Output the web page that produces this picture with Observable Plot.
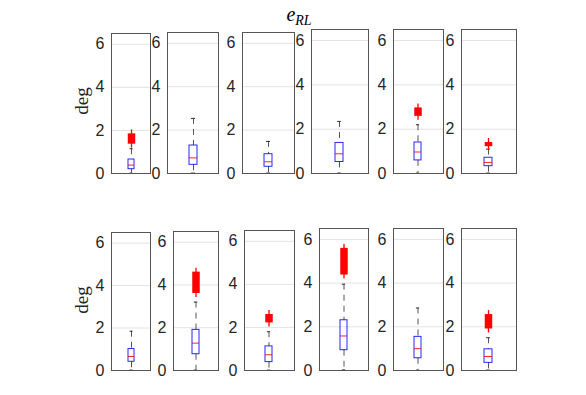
<!DOCTYPE html>
<html>
<head>
<meta charset="utf-8">
<script src="https://cdn.jsdelivr.net/npm/d3@7"></script>
<script src="https://cdn.jsdelivr.net/npm/@observablehq/plot@0.6"></script>
<style>
  html, body { margin: 0; padding: 0; background: #fff; }
  #fig { position: relative; width: 586px; height: 395px; overflow: hidden; background: #fff; }
  .panel { position: absolute; }
  .ylab { position: absolute; font-family: "Liberation Serif", "Times New Roman", serif; font-size: 19px; color: #262626; transform: translate(-50%, -50%) rotate(-90deg); white-space: nowrap; }
  .title { position: absolute; font-family: "Liberation Serif", "Times New Roman", serif; font-size: 20px; color: #000; transform: translateX(-50%); white-space: nowrap; }
  .title sub { font-size: 14px; vertical-align: -4px; }
</style>
</head>
<body>
<div id="fig"></div>
<script>
// ---- data (12 panels: row 1 then row 2), values in deg ----
const panelNames = ["r1c1","r1c2","r1c3","r1c4","r1c5","r1c6","r2c1","r2c2","r2c3","r2c4","r2c5","r2c6"];
const q1Values   = [0.20, 0.40, 0.31, 0.52, 0.59, 0.33,  0.41, 0.76, 0.39, 0.93, 0.56, 0.35];
const medValues  = [0.39, 0.72, 0.54, 0.89, 0.97, 0.50,  0.66, 1.28, 0.73, 1.58, 1.00, 0.64];
const q3Values   = [0.65, 1.29, 0.89, 1.38, 1.40, 0.71,  1.01, 1.90, 1.12, 2.30, 1.54, 0.97];
const whiskLo    = [0.02, 0.02, 0.02, 0.02, 0.02, 0.02,  0.02, 0.02, 0.02, 0.03, 0.02, 0.02];
const whiskHi    = [1.15, 2.54, 1.48, 2.35, 2.20, 1.10,  1.85, 3.20, 1.80, 3.95, 2.86, 1.50];
const outlierLo  = [1.36, null, null, null, 2.58, 1.21,  null, 3.60, 2.21, 4.37, null, 1.90];
const outlierHi  = [1.84, null, null, null, 2.96, 1.40,  null, 4.60, 2.60, 5.59, null, 2.56];
const yTicks = [0, 2, 4, 6];
const yMax = 6.5;
const yLabel = "deg";

// ---- layout (frame rectangles in page pixels) ----
const frameLeft   = [111, 167, 242, 311, 393, 461,  111, 173, 244, 319, 393, 461];
const frameRight  = [150, 218, 294, 368, 443, 516,  150, 218, 294, 368, 443, 516];
const frameTop    = [33, 32, 32, 29, 29, 29,  232, 231, 230, 228, 228, 228];
const frameBottom = [173, 173, 173, 173, 173, 173,  370, 370, 370, 370, 370, 370];

const ML = 34, MR = 2, MT = 4, MB = 14;
const fig = document.getElementById("fig");

panelNames.forEach((name, i) => {
  const W = frameRight[i] - frameLeft[i];
  const H = frameBottom[i] - frameTop[i];
  const rec = [{k: name, q1: q1Values[i], med: medValues[i], q3: q3Values[i],
                lo: whiskLo[i], hi: whiskHi[i], oLo: outlierLo[i], oHi: outlierHi[i]}];
  const out = rec.filter(d => d.oLo != null);
  const bw = 0.15 * W;
  const capInset = bw / 4;
  const chart = Plot.plot({
    width: W + ML + MR,
    height: H + MT + MB,
    marginLeft: ML, marginRight: MR, marginTop: MT, marginBottom: MB,
    style: {fontFamily: "'Liberation Sans', Arial, sans-serif", fontSize: "16px", color: "#262626", background: "transparent", overflow: "visible"},
    x: {type: "band", domain: [name], padding: 0.739, axis: null},
    y: {domain: [0, yMax], ticks: yTicks, tickSize: 0, tickPadding: 7, label: null, tickFormat: d3.format("d")},
    marks: [
      Plot.gridY(yTicks.filter(t => t > 0), {stroke: "#e3e3e3", strokeOpacity: 1}),
      Plot.ruleX(rec, {x: "k", y1: "hi", y2: "q3", stroke: "#555", strokeDasharray: "6,5"}),
      Plot.ruleX(rec, {x: "k", y1: "q1", y2: "lo", stroke: "#555", strokeDasharray: "6,5"}),
      Plot.tickY(rec, {x: "k", y: "hi", stroke: "#333", insetLeft: capInset, insetRight: capInset}),
      Plot.tickY(rec, {x: "k", y: "lo", stroke: "#333", insetLeft: capInset, insetRight: capInset}),
      Plot.barY(rec, {x: "k", y1: "q1", y2: "q3", fill: "none", stroke: "#0000ff", strokeOpacity: 0.85}),
      Plot.tickY(rec, {x: "k", y: "med", stroke: "#ff0000", strokeOpacity: 0.85}),
      Plot.ruleX(out, {x: "k", y1: "oHi", y2: "oLo", stroke: "#ff0000", strokeWidth: 7.5}),
      Plot.ruleX(out, {x: "k", y1: "oHi", y2: "oLo", stroke: "#ff0000", strokeWidth: 1.3, insetTop: -4, insetBottom: -4}),
      Plot.frame({stroke: "#555"})
    ]
  });
  const wrap = document.createElement("div");
  wrap.className = "panel";
  wrap.style.left = (frameLeft[i] - ML) + "px";
  wrap.style.top = (frameTop[i] - MT) + "px";
  wrap.appendChild(chart);
  fig.appendChild(wrap);
});

// y labels
[[82, 101], [82, 300]].forEach(([x, y]) => {
  const d = document.createElement("div");
  d.className = "ylab";
  d.style.left = x + "px";
  d.style.top = y + "px";
  d.textContent = yLabel;
  fig.appendChild(d);
});

// title
const t = document.createElement("div");
t.className = "title";
t.style.left = "299px";
t.style.top = "3px";
t.innerHTML = "<i>e</i><sub><i>RL</i></sub>";
fig.appendChild(t);
</script>
</body>
</html>
